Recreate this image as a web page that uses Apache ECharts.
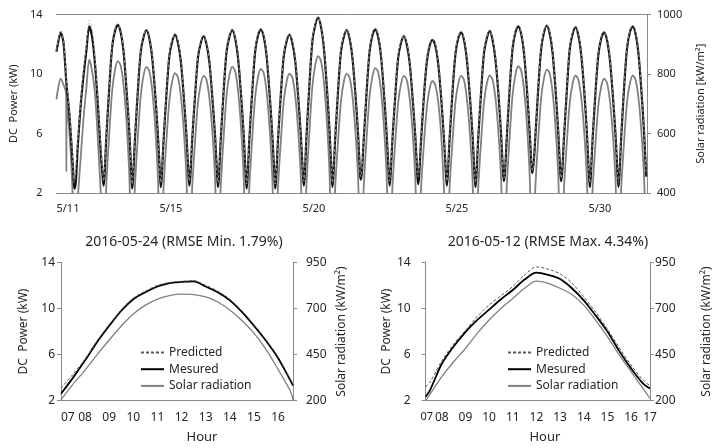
<!DOCTYPE html>
<html><head><meta charset="utf-8">
<script src="https://cdn.jsdelivr.net/npm/echarts@6/dist/echarts.min.js"></script>
<style>html,body{margin:0;padding:0;background:#fff}#c{width:714px;height:448px}</style>
</head><body><div id="c"></div>
<script>
// ---------- Top chart (May 11 - May 31, daytime only) ----------
const topHours = [7, 8, 9, 10, 11, 12, 13, 14, 15, 16, 16.7];
const topDays = [12,13,14,15,16,17,18,19,20,21,22,23,24,25,26,27,28,29,30,31];
const measuredTop = [
  [2.3,5.2,7.9,9.9,11.6,13.2,12.5,10.7,8.0,4.8,3.0],
  [2.5,5.9,9.1,11.8,12.9,13.3,12.8,11.5,9.0,6.1,3.3],
  [2.3,5.7,8.9,11.5,12.5,12.95,12.4,11.1,8.8,5.9,3.3],
  [2.4,5.6,8.7,11.2,12.2,12.65,12.1,10.9,8.6,5.8,3.2],
  [2.5,5.6,8.6,11.1,12.1,12.55,12.0,10.8,8.5,5.8,3.2],
  [2.4,5.7,8.9,11.5,12.5,12.95,12.4,11.1,8.8,5.9,3.2],
  [2.3,5.7,8.9,11.5,12.6,13.0,12.5,11.2,8.8,5.9,3.3],
  [2.3,5.6,8.7,11.2,12.2,12.65,12.1,10.9,8.6,5.8,3.2],
  [2.5,6.0,9.4,12.2,13.3,13.8,13.2,11.8,9.3,6.2,3.4],
  [2.4,5.7,8.9,11.5,12.5,12.95,12.4,11.1,8.8,5.9,3.2],
  [2.9,5.7,8.9,11.5,12.6,13.0,12.5,11.2,8.8,5.9,3.3],
  [2.5,5.6,8.6,11.1,12.1,12.55,12.0,10.8,8.5,5.8,3.2],
  [2.6,5.5,8.5,10.8,11.9,12.3,11.9,10.7,8.5,5.7,3.3],
  [2.5,5.7,8.8,11.3,12.4,12.8,12.3,11.0,8.7,5.9,3.2],
  [2.4,5.7,8.8,11.4,12.4,12.9,12.3,11.0,8.8,5.9,3.3],
  [2.8,5.8,9.1,11.7,12.8,13.2,12.7,11.4,9.0,6.0,3.6],
  [3.35,5.9,9.1,11.7,12.8,13.25,12.7,11.4,9.0,6.0,3.3],
  [2.8,5.8,9.0,11.7,12.7,13.15,12.6,11.3,9.0,6.0,3.2],
  [2.4,5.7,8.8,11.3,12.4,12.8,12.3,11.0,8.7,5.9,3.2],
  [2.4,5.8,9.1,11.7,12.8,13.2,12.7,11.4,9.0,6.0,3.1]
];
const predictedTop = [
  [3.0,5.45,8.1,10.3,11.9,13.65,13.0,11.0,8.2,5.1,3.3],
  [2.8,6.0,9.2,11.9,13.0,13.4,12.9,11.6,9.1,6.2,3.4],
  [2.6,5.8,9.0,11.6,12.6,13.0,12.5,11.2,8.9,6.0,3.4],
  [2.7,5.7,8.8,11.3,12.3,12.75,12.2,11.0,8.7,5.9,3.3],
  [2.8,5.7,8.7,11.2,12.2,12.6,12.1,10.9,8.6,5.9,3.3],
  [2.7,5.8,9.0,11.6,12.6,13.05,12.5,11.2,8.9,6.0,3.3],
  [2.6,5.8,9.0,11.6,12.7,13.1,12.6,11.3,8.9,6.0,3.4],
  [2.6,5.7,8.8,11.3,12.3,12.7,12.2,11.0,8.7,5.9,3.3],
  [2.8,6.1,9.5,12.3,13.4,13.85,13.3,11.9,9.4,6.3,3.5],
  [2.7,5.8,9.0,11.6,12.6,13.0,12.5,11.2,8.9,6.0,3.3],
  [3.1,5.8,9.0,11.6,12.7,13.1,12.6,11.3,8.9,6.0,3.4],
  [2.8,5.7,8.7,11.2,12.2,12.6,12.1,10.9,8.6,5.9,3.3],
  [3.1,5.6,8.6,10.9,12.0,12.35,12.0,10.8,8.6,5.8,3.4],
  [2.8,5.8,8.9,11.4,12.5,12.9,12.4,11.1,8.8,6.0,3.3],
  [2.7,5.8,8.9,11.5,12.5,12.95,12.4,11.1,8.9,6.0,3.4],
  [3.0,5.9,9.2,11.8,12.9,13.3,12.8,11.5,9.1,6.1,3.7],
  [3.5,6.0,9.2,11.8,12.9,13.3,12.8,11.5,9.1,6.1,3.4],
  [3.0,5.9,9.1,11.8,12.8,13.2,12.7,11.4,9.1,6.1,3.3],
  [2.7,5.8,8.9,11.4,12.5,12.9,12.4,11.1,8.8,6.0,3.3],
  [2.7,5.9,9.2,11.8,12.9,13.3,12.8,11.5,9.1,6.1,3.2]
];
const solarTop = [
  [185,380,518,652,754,848,809,733,582,402,225],
  [206,435,601,743,814,843,828,762,642,460,206],
  [205,429,591,727,796,824,810,746,630,454,205],
  [205,423,579,710,776,803,789,728,616,447,205],
  [205,421,574,703,767,794,780,720,611,444,205],
  [205,429,591,727,796,824,810,746,630,454,205],
  [205,427,587,722,789,817,803,740,625,451,205],
  [205,423,578,709,774,801,788,727,615,446,205],
  [206,440,611,757,830,860,845,777,653,466,206],
  [205,423,578,709,774,801,788,727,615,446,205],
  [205,428,589,725,792,820,806,743,627,452,205],
  [205,421,574,703,767,794,780,720,611,444,205],
  [205,416,564,685,751,777,762,707,601,415,205],
  [205,421,574,703,767,794,780,720,611,444,205],
  [205,421,574,704,768,795,781,721,611,444,205],
  [205,430,592,729,798,826,812,748,631,454,205],
  [205,427,586,720,787,815,801,738,624,451,205],
  [205,421,574,704,768,795,781,721,611,444,205],
  [205,418,568,695,758,784,771,712,604,440,205],
  [205,421,574,704,768,795,781,721,611,444,205]
];
// May 11 (partly cloudy, chart starts mid-morning)
const day11Hours = [10.54, 11, 12, 13, 14, 15, 16, 16.7];
const day11Measured = [11.5, 12.0, 12.8, 12.1, 9.4, 7.4, 4.6, 2.5];
const day11Predicted = [11.6, 12.1, 12.9, 12.2, 9.6, 7.6, 4.8, 2.7];
const day11SolarHours = [10.54, 11, 12, 13, 13.9, 14.0, 14.1, 15, 16, 16.7];
const day11Solar = [715, 745, 784, 764, 735, 472, 700, 610, 440, 205];
const topLabelDays = [11, 15, 20, 25, 30];
const topLabelText = ['5/11', '5/15', '5/20', '5/25', '5/30'];

// ---------- Bottom-left: 2016-05-24 ----------
const hoursMin = [7,7.5,8,8.5,9,9.5,10,10.5,11,11.5,12,12.5,13,13.5,14,14.5,15,15.5,16,16.5,16.62];
const measuredMin = [2.6,4.0,5.5,7.1,8.5,9.8,10.8,11.4,11.9,12.2,12.3,12.35,11.9,11.4,10.7,9.7,8.5,7.2,5.7,3.8,3.3];
const predictedMin = [3.1,4.3,5.6,7.2,8.6,9.9,10.9,11.5,12.0,12.25,12.35,12.4,12.0,11.5,10.8,9.8,8.6,7.3,5.8,3.9,3.4];
const solarMin = [205,290,366,450,529,605,670,718,751,770,777,775,762,735,692,635,566,478,370,255,205];

// ---------- Bottom-right: 2016-05-12 ----------
const hoursMax = [7.32,7.5,8,8.5,9,9.5,10,10.5,11,11.5,12,12.5,13,13.5,14,14.5,15,15.5,16,16.5,16.8];
const measuredMax = [2.35,2.9,5.2,6.7,7.95,9.0,9.9,10.8,11.6,12.5,13.1,12.9,12.55,11.75,10.7,9.4,8.0,6.3,4.8,3.5,3.05];
const predictedMax = [3.2,3.6,5.45,6.9,8.1,9.3,10.3,11.1,11.9,12.9,13.6,13.4,13.0,12.2,11.0,9.7,8.2,6.6,5.1,3.8,3.3];
const solarMax = [200,235,330,411,483,565,637,700,754,809,848,836,809,776,718,637,547,448,357,267,213];

// ---------- build ----------
function pos(day, h) { return (day - 11) * 10 + (h - 7); }
function buildTop(arr, d11h, d11v) {
  const out = d11h.map((h, i) => [pos(11, h), d11v[i]]);
  topDays.forEach((d, k) => topHours.forEach((h, i) => out.push([pos(d, h), arr[k][i]])));
  return out;
}
function zip(xs, ys) { return xs.map((x, i) => [x, ys[i]]); }
const pad = v => (v < 10 ? '0' : '') + v;

const AX = '#8a8a8a', TX = '#262626', FONT = 'Noto Sans';
const topMin = pos(11, 10.54), topMax = pos(31, 17);
const topLabelPos = topLabelDays.map(d => pos(d, 10.54));
const maxMin = hoursMax[0], maxMax = hoursMax[hoursMax.length - 1];

function yAx(grid, side, min, max, interval, name, o) {
  return Object.assign({
    type: 'value', gridIndex: grid, position: side, min, max, interval,
    axisLine: { show: true, lineStyle: { color: AX, width: 1 } },
    axisTick: { show: true, inside: false, length: 4, lineStyle: { color: AX } },
    splitLine: { show: false },
    axisLabel: { color: TX, fontSize: 12, fontFamily: FONT, margin: 8 },
    name, nameLocation: 'middle', nameGap: 34,
    nameTextStyle: { color: TX, fontSize: 12, fontFamily: FONT }
  }, o);
}

const lineBase = { type: 'line', symbol: 'none', smooth: 0.3, animation: false };
const legendBase = { orient: 'vertical', itemWidth: 23, itemHeight: 10, itemGap: 2.7, selectedMode: false,
  data: ['Predicted', 'Mesured', 'Solar radiation'],
  itemStyle: { opacity: 0, borderWidth: 0 },
  textStyle: { fontSize: 12, lineHeight: 14, color: TX, fontFamily: FONT } };

const option = {
  animation: false,
  backgroundColor: '#fff',
  textStyle: { fontFamily: FONT },
  title: [
    { text: '2016-05-24 (RMSE Min. 1.79%)', left: 179, top: 230, textAlign: 'center',
      textStyle: { fontSize: 14, fontWeight: 'normal', color: TX, fontFamily: FONT } },
    { text: '2016-05-12 (RMSE Max. 4.34%)', left: 543, top: 230, textAlign: 'center',
      textStyle: { fontSize: 14, fontWeight: 'normal', color: TX, fontFamily: FONT } }
  ],
  legend: [
    Object.assign({ left: 135, top: 340.5 }, legendBase),
    Object.assign({ left: 502, top: 340.5 }, legendBase)
  ],
  grid: [
    { left: 52.5, top: 14.5, width: 607.5, height: 178.5 },
    { left: 61, top: 262.3, width: 232, height: 138.4 },
    { left: 425.7, top: 262.3, width: 231, height: 138.4 }
  ],
  xAxis: [
    { type: 'value', gridIndex: 0, min: topMin, max: topMax,
      axisLine: { show: true, lineStyle: { color: AX } }, axisTick: { show: false }, splitLine: { show: false },
      axisLabel: { color: TX, fontSize: 11, fontFamily: FONT, margin: 10, customValues: topLabelPos,
        alignMinLabel: 'left', showMinLabel: true,
        formatter: v => { let b = 0, bd = 1e9; topLabelPos.forEach((p, i) => { if (Math.abs(p - v) < bd) { bd = Math.abs(p - v); b = i; } }); return topLabelText[b]; } } },
    { type: 'value', gridIndex: 0, position: 'top', min: topMin, max: topMax,
      axisLine: { show: true, lineStyle: { color: AX } }, axisTick: { show: false }, axisLabel: { show: false }, splitLine: { show: false } },
    { type: 'value', gridIndex: 1, min: 7, max: 16.62,
      axisLine: { show: true, lineStyle: { color: AX } }, axisTick: { show: false }, splitLine: { show: false },
      axisLabel: { color: TX, fontSize: 12, fontFamily: FONT, margin: 11, customValues: [7,8,9,10,11,12,13,14,15,16],
        alignMinLabel: 'left', showMinLabel: true, formatter: v => pad(Math.round(v)) },
      name: 'Hour', nameLocation: 'middle', nameGap: 30,
      nameTextStyle: { color: TX, fontSize: 13, fontFamily: FONT, padding: [0, 0, 0, 50] } },
    { type: 'value', gridIndex: 2, min: maxMin, max: maxMax,
      axisLine: { show: true, lineStyle: { color: AX } }, axisTick: { show: false }, splitLine: { show: false },
      axisLabel: { color: TX, fontSize: 12, fontFamily: FONT, margin: 11, customValues: [8,9,10,11,12,13,14,15,16,maxMax],
        alignMaxLabel: 'center', showMaxLabel: true,
        formatter: v => v > 16.5 ? '17' : pad(Math.round(v)) },
      name: 'Hour', nameLocation: 'middle', nameGap: 30,
      nameTextStyle: { color: TX, fontSize: 13, fontFamily: FONT, padding: [0, 0, 0, 14] } },
    // first hour label of the 05-12 panel (placed on the bottom edge, drawn separately so it is not dropped)
    { type: 'value', gridIndex: 2, position: 'top', offset: -138.4, min: maxMin, max: maxMax,
      axisLine: { show: false }, axisTick: { show: false }, splitLine: { show: false },
      axisLabel: { inside: true, color: TX, fontSize: 12, fontFamily: FONT, margin: 11, customValues: [maxMin],
        alignMinLabel: 'center', showMinLabel: true, formatter: () => '{a|07}',
        rich: { a: { fontSize: 11, fontFamily: FONT, color: TX, padding: [0, 0, 0, 2] } } } }
  ],
  yAxis: [
    yAx(0, 'left', 2, 14, 4, 'DC  Power (kW)', {
      axisLine: { show: false }, axisTick: { show: false },
      axisLabel: { color: TX, fontSize: 11, fontFamily: FONT, margin: 14 },
      nameGap: 25, nameTextStyle: { color: TX, fontSize: 11, fontFamily: FONT } }),
    yAx(0, 'right', 400, 1000, 200, 'Solar radiation [kW/m²]', {
      axisLabel: { color: TX, fontSize: 11, fontFamily: FONT, margin: 10, formatter: v => String(v) },
      nameGap: 48, nameTextStyle: { color: TX, fontSize: 11, fontFamily: FONT } }),
    yAx(1, 'left', 2, 14, 4, 'DC  Power (kW)', { axisLabel: { color: TX, fontSize: 12, fontFamily: FONT, margin: 6 }, nameGap: 31 }),
    yAx(1, 'right', 200, 950, 250, 'Solar radiation (kW/m²)', { axisLabel: { color: TX, fontSize: 12, fontFamily: FONT, margin: 13 }, nameGap: 43 }),
    yAx(2, 'left', 2, 14, 4, 'DC  Power (kW)', { axisLabel: { color: TX, fontSize: 12, fontFamily: FONT, margin: 15 }, nameGap: 33 }),
    yAx(2, 'right', 200, 950, 250, 'Solar radiation (kW/m²)', { axisLabel: { color: TX, fontSize: 12, fontFamily: FONT, margin: 5 }, nameGap: 51 })
  ],
  series: [
    Object.assign({}, lineBase, { name: 'Solar (top)', xAxisIndex: 0, yAxisIndex: 1,
      data: buildTop(solarTop, day11SolarHours, day11Solar), lineStyle: { color: '#808080', width: 1.8 } }),
    Object.assign({}, lineBase, { name: 'Measured (top)', xAxisIndex: 0, yAxisIndex: 0,
      data: buildTop(measuredTop, day11Hours, day11Measured), lineStyle: { color: '#111', width: 2.2 } }),
    Object.assign({}, lineBase, { name: 'Predicted (top)', xAxisIndex: 0, yAxisIndex: 0,
      data: buildTop(predictedTop, day11Hours, day11Predicted), lineStyle: { color: '#b5b5b5', width: 0.8, type: [3, 2] } }),

    Object.assign({}, lineBase, { name: 'Solar radiation', xAxisIndex: 2, yAxisIndex: 3,
      data: zip(hoursMin, solarMin), lineStyle: { color: '#808080', width: 1.3 }, itemStyle: { color: '#808080' } }),
    Object.assign({}, lineBase, { name: 'Mesured', xAxisIndex: 2, yAxisIndex: 2,
      data: zip(hoursMin, measuredMin), lineStyle: { color: '#000', width: 1.8 }, itemStyle: { color: '#000' } }),
    Object.assign({}, lineBase, { name: 'Predicted', xAxisIndex: 2, yAxisIndex: 2,
      data: zip(hoursMin, predictedMin), lineStyle: { color: '#555', width: 1, type: [3, 2] }, itemStyle: { color: '#555' } }),

    Object.assign({}, lineBase, { name: 'Solar radiation', xAxisIndex: 3, yAxisIndex: 5,
      data: zip(hoursMax, solarMax), lineStyle: { color: '#808080', width: 1.3 }, itemStyle: { color: '#808080' } }),
    Object.assign({}, lineBase, { name: 'Mesured', xAxisIndex: 3, yAxisIndex: 4,
      data: zip(hoursMax, measuredMax), lineStyle: { color: '#000', width: 1.8 }, itemStyle: { color: '#000' } }),
    Object.assign({}, lineBase, { name: 'Predicted', xAxisIndex: 3, yAxisIndex: 4,
      data: zip(hoursMax, predictedMax), lineStyle: { color: '#555', width: 1, type: [3, 2] }, itemStyle: { color: '#555' } })
  ]
};
const chart = echarts.init(document.getElementById('c'), null, { renderer: 'canvas' });
chart.setOption(option);
</script></body></html>
